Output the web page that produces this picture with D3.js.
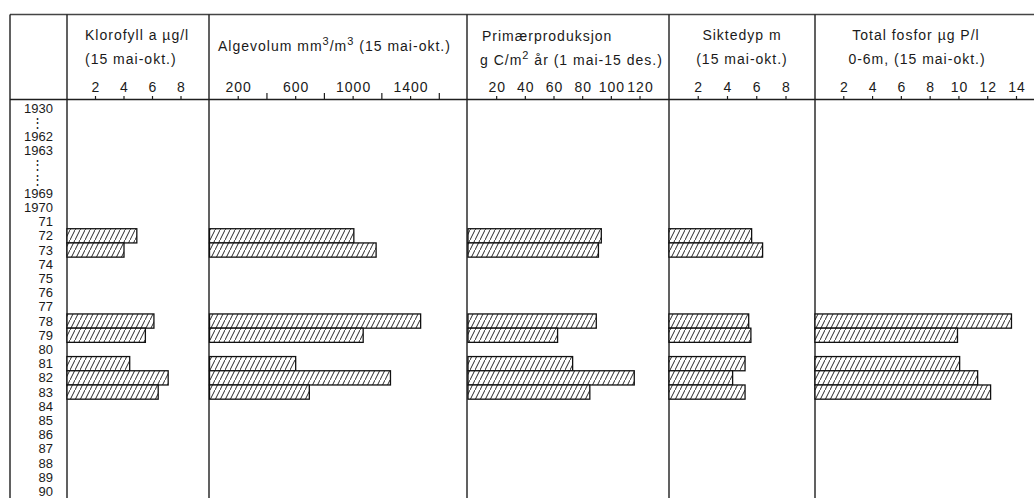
<!DOCTYPE html>
<html><head><meta charset="utf-8">
<script src="https://cdn.jsdelivr.net/npm/d3@7"></script>
<style>
html,body{margin:0;padding:0;background:#fff;}
svg{display:block;}
text{font-family:"Liberation Sans",Arial,sans-serif;fill:#1a1a1a;}
</style></head>
<body>
<svg id="c" width="1034" height="498"></svg>
<script>
// ---- data ----
const rows = ["1930","⋮","1962","1963","⋮ ","⋮  ","1969","1970","71","72","73","74","75","76","77","78","79","80","81","82","83","84","85","86","87","88","89","90"];
const barYears = ["72","73","78","79","81","82","83"];
const klorofyll = [4.9, 4.0, 6.1, 5.5, 4.4, 7.1, 6.4];
const algevolum = [1005, 1160, 1470, 1070, 600, 1260, 695];
const primaer = [93, 91, 89.5, 62.5, 73, 116, 85];
const siktedyp = [5.65, 6.4, 5.45, 5.6, 5.2, 4.35, 5.2];
const fosforYears = ["78","79","81","82","83"];
const fosfor = [13.65, 9.9, 10.05, 11.3, 12.2];

const klorTicks = [2,4,6,8];
const algeTicks = [200,600,1000,1400];
const algeMinor = [400,800,1200,1600];
const primTicks = [20,40,60,80,100,120];
const siktTicks = [2,4,6,8];
const fosTicks = [2,4,6,8,10,12,14];

// ---- layout ----
const W = 1034, H = 498;
const svg = d3.select("#c");
const topY = 14.5, axisY = 99.5;
const dividers = [10, 67, 209, 467, 669, 815];
const ink = "#1e1e1e";

const defs = svg.append("defs");
const pat = defs.append("pattern").attr("id","hatch").attr("patternUnits","userSpaceOnUse")
  .attr("width",5).attr("height",10);
pat.append("rect").attr("width",5).attr("height",10).attr("fill","#fff");
pat.append("line").attr("x1",0).attr("y1",10).attr("x2",5).attr("y2",0)
  .attr("stroke","#2a2a2a").attr("stroke-width",1);

const y = d3.scalePoint().domain(rows).range([108, 491.5]);
const step = y.step();

// frame lines
svg.append("line").attr("x1",10).attr("x2",W).attr("y1",topY).attr("y2",topY)
  .attr("stroke","#444").attr("stroke-width",1.3);
svg.append("line").attr("x1",10).attr("x2",W).attr("y1",axisY).attr("y2",axisY)
  .attr("stroke",ink).attr("stroke-width",1.4);
svg.selectAll("line.div").data(dividers).join("line").attr("class","div")
  .attr("x1",d=>d).attr("x2",d=>d).attr("y1",topY).attr("y2",H)
  .attr("stroke",ink).attr("stroke-width",1.4);

// year labels
svg.selectAll("text.yr").data(rows).join("text").attr("class","yr")
  .attr("x",d=>d.trim()==="⋮"?37:53)
  .attr("y",d=>y(d)+4.6)
  .attr("text-anchor",d=>d.trim()==="⋮"?"middle":"end")
  .attr("font-size",13)
  .text(d=>d.trim());

const FS = 14, LS = 1.0;
function headerLine(x, yy, parts, anchor){
  const t = svg.append("text").attr("x",x).attr("y",yy).attr("font-size",FS)
    .attr("letter-spacing",LS).attr("text-anchor",anchor||"start");
  parts.forEach(p=>{
    if (typeof p === "string") t.append("tspan").text(p);
    else t.append("tspan").attr("baseline-shift","super").attr("font-size",11).text(p.sup);
  });
}

// panels
const panels = [
  {scale:d3.scaleLinear().domain([0,8]).range([67,181]), ticks:klorTicks, minor:[], vals:klorofyll, yrs:barYears},
  {scale:d3.scaleLinear().domain([0,1600]).range([209.5,439.3]), ticks:algeTicks, minor:algeMinor, vals:algevolum, yrs:barYears},
  {scale:d3.scaleLinear().domain([0,120]).range([468,640]), ticks:primTicks, minor:[], vals:primaer, yrs:barYears},
  {scale:d3.scaleLinear().domain([0,8]).range([669,786]), ticks:siktTicks, minor:[], vals:siktedyp, yrs:barYears},
  {scale:d3.scaleLinear().domain([0,14]).range([815,1016.5]), ticks:fosTicks, minor:[], vals:fosfor, yrs:fosforYears}
];

panels.forEach((p,i)=>{
  const g = svg.append("g");
  g.selectAll("line.tk").data(p.ticks).join("line")
    .attr("x1",d=>p.scale(d)).attr("x2",d=>p.scale(d)).attr("y1",axisY-3.5).attr("y2",axisY)
    .attr("stroke",ink).attr("stroke-width",1.2);
  g.selectAll("line.mn").data(p.minor).join("line")
    .attr("x1",d=>p.scale(d)).attr("x2",d=>p.scale(d)).attr("y1",axisY-6.5).attr("y2",axisY)
    .attr("stroke",ink).attr("stroke-width",1.2);
  g.selectAll("text.tl").data(p.ticks).join("text")
    .attr("x",d=>p.scale(d)+LS/2).attr("y",91.5).attr("text-anchor","middle")
    .attr("font-size",FS).attr("letter-spacing",LS).text(d=>d);
  g.selectAll("rect.bar").data(p.vals).join("rect")
    .attr("x",p.scale(0)).attr("y",(d,j)=>y(p.yrs[j])-step/2)
    .attr("width",d=>p.scale(d)-p.scale(0)).attr("height",step)
    .attr("fill","url(#hatch)").attr("stroke","#111").attr("stroke-width",1.3);
});

// headers
headerLine(85, 39.5, ["Klorofyll a µg/l"]);
headerLine(85, 63.5, ["(15 mai-okt.)"]);
headerLine(218, 51, ["Algevolum mm",{sup:"3"},"/m",{sup:"3"}," (15 mai-okt.)"]);
headerLine(482, 41, ["Primærproduksjon"]);
headerLine(480, 64.5, ["g C/m",{sup:"2"}," år (1 mai-15 des.)"]);
headerLine(742, 40, ["Siktedyp m"], "middle");
headerLine(742, 64, ["(15 mai-okt.)"], "middle");
headerLine(916, 40, ["Total fosfor µg P/l"], "middle");
headerLine(917, 64, ["0-6m, (15 mai-okt.)"], "middle");
</script>
</body></html>
